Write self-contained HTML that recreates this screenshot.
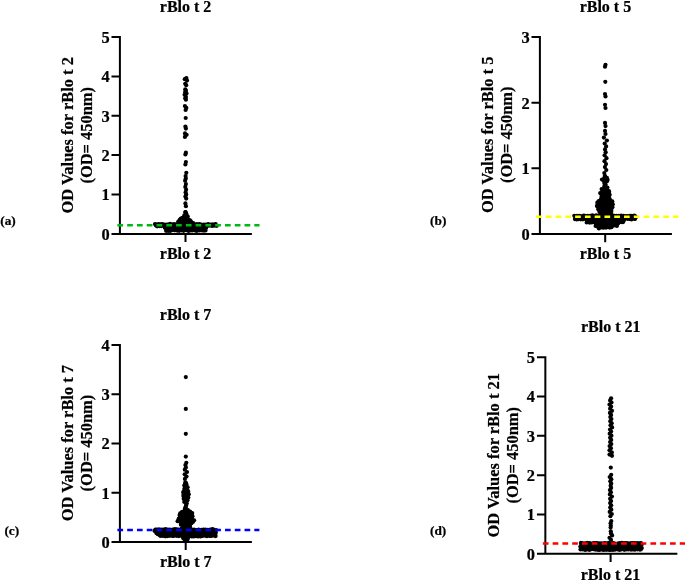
<!DOCTYPE html>
<html lang="en"><head><meta charset="utf-8"><title>OD values for rBlo t allergens</title>
<style>html,body{margin:0;padding:0;background:#fff}body{width:685px;height:580px;overflow:hidden}text{stroke:#000;stroke-width:.22px;stroke-linejoin:round}</style></head>
<body>
<svg width="685" height="580" viewBox="0 0 685 580" style="display:block;will-change:transform">
<rect width="685" height="580" fill="#fff"/>
<g font-family="'Liberation Serif', 'Times New Roman', serif" font-weight="bold" fill="#000">
<path d="M119.9 36V234.9M111.5 233.9H251.9M185.5 233.9V242.1M111.5 37H119.9M111.5 76.4H119.9M111.5 115.8H119.9M111.5 155.1H119.9M111.5 194.5H119.9" stroke="#000" stroke-width="2" fill="none"/>
<text x="109.6" y="42.9" font-size="16.4" text-anchor="end">5</text>
<text x="109.6" y="82.3" font-size="16.4" text-anchor="end">4</text>
<text x="109.6" y="121.7" font-size="16.4" text-anchor="end">3</text>
<text x="109.6" y="161" font-size="16.4" text-anchor="end">2</text>
<text x="109.6" y="200.4" font-size="16.4" text-anchor="end">1</text>
<text x="109.6" y="239.8" font-size="16.4" text-anchor="end">0</text>
<text x="185.6" y="11.8" font-size="16" text-anchor="middle">rBlo t 2</text>
<text x="185.6" y="258.9" font-size="16" text-anchor="middle">rBlo t 2</text>
<text transform="translate(73.4 135.3) rotate(-90)" font-size="16.45" text-anchor="middle">OD Values for rBlo t 2</text>
<text transform="translate(92.1 135.3) rotate(-90)" font-size="16.45" text-anchor="middle">(OD= 450nm)</text>
<text x="0.3" y="224.6" font-size="13.3">(a)</text>
<g><circle cx="186.4" cy="78" r="2.1"/><circle cx="184.8" cy="79.2" r="2.1"/><circle cx="187" cy="80.6" r="2.1"/><circle cx="185.2" cy="83.8" r="2.1"/><circle cx="186.2" cy="85.2" r="2.1"/><circle cx="185.3" cy="89.3" r="2.1"/><circle cx="185.9" cy="90.7" r="2.1"/><circle cx="185.1" cy="92" r="2.1"/><circle cx="186.5" cy="93.4" r="2.1"/><circle cx="184.6" cy="94.8" r="2.1"/><circle cx="185.9" cy="96.9" r="2.1"/><circle cx="185.2" cy="98.3" r="2.1"/><circle cx="185.9" cy="99.7" r="2.1"/><circle cx="184.9" cy="106.1" r="2.1"/><circle cx="186.3" cy="107.9" r="2.1"/><circle cx="185.6" cy="110" r="2.1"/><circle cx="185.7" cy="118" r="2.1"/><circle cx="185.4" cy="126.6" r="2.1"/><circle cx="185.9" cy="128.6" r="2.1"/><circle cx="185" cy="133.4" r="2.1"/><circle cx="186.6" cy="134.8" r="2.1"/><circle cx="184.9" cy="136.9" r="2.1"/><circle cx="185.9" cy="152.7" r="2.1"/><circle cx="185.4" cy="154.5" r="2.1"/><circle cx="185.9" cy="162" r="2.1"/><circle cx="185.4" cy="164.5" r="2.1"/><circle cx="186.3" cy="172.8" r="2.1"/><circle cx="185.6" cy="176.1" r="2.1"/><circle cx="185.8" cy="178.6" r="2.1"/><circle cx="185.1" cy="180.7" r="2.1"/><circle cx="185.9" cy="184.1" r="2.1"/><circle cx="185.3" cy="186.9" r="2.1"/><circle cx="186.1" cy="189.7" r="2.1"/><circle cx="185.6" cy="192.4" r="2.1"/><circle cx="186.2" cy="194.5" r="2.1"/><circle cx="185.4" cy="196.6" r="2.1"/><circle cx="186.2" cy="198.6" r="2.1"/><circle cx="185.4" cy="203.4" r="2.1"/><circle cx="185.9" cy="206.2" r="2.1"/><circle cx="185.4" cy="212.2" r="2.1"/><circle cx="185.5" cy="212" r="2.1"/><circle cx="186.3" cy="214" r="2.1"/><circle cx="186" cy="213.4" r="2.1"/><circle cx="184.3" cy="215.4" r="2.1"/><circle cx="186.5" cy="215.1" r="2.1"/><circle cx="184.7" cy="216.3" r="2.1"/><circle cx="185.1" cy="217.1" r="2.1"/><circle cx="187.8" cy="216.6" r="2.1"/><circle cx="180.8" cy="218.5" r="2.1"/><circle cx="182.4" cy="217.9" r="2.1"/><circle cx="184.3" cy="218.7" r="2.1"/><circle cx="186.6" cy="217.9" r="2.1"/><circle cx="187" cy="217.9" r="2.1"/><circle cx="179.7" cy="219.8" r="2.1"/><circle cx="180.7" cy="219.5" r="2.1"/><circle cx="182.9" cy="219.4" r="2.1"/><circle cx="184.7" cy="219.4" r="2.1"/><circle cx="186.4" cy="219.5" r="2.1"/><circle cx="188.1" cy="220.2" r="2.1"/><circle cx="189.7" cy="220.1" r="2.1"/><circle cx="178.3" cy="221.6" r="2.1"/><circle cx="180.5" cy="220.9" r="2.1"/><circle cx="182.7" cy="221" r="2.1"/><circle cx="184" cy="221.5" r="2.1"/><circle cx="186" cy="221.1" r="2.1"/><circle cx="187.7" cy="220.9" r="2.1"/><circle cx="190.1" cy="221.1" r="2.1"/><circle cx="190.9" cy="221.3" r="2.1"/><circle cx="178.4" cy="222.9" r="2.1"/><circle cx="179.6" cy="222.5" r="2.1"/><circle cx="181" cy="223.2" r="2.1"/><circle cx="183.6" cy="222.6" r="2.1"/><circle cx="185.1" cy="223" r="2.1"/><circle cx="187.8" cy="222.6" r="2.1"/><circle cx="189.9" cy="223.2" r="2.1"/><circle cx="191.6" cy="222.8" r="2.1"/><circle cx="193.2" cy="223.2" r="2.1"/><circle cx="155" cy="224.1" r="2.1"/><circle cx="157.3" cy="224.4" r="2.1"/><circle cx="159" cy="224.1" r="2.1"/><circle cx="161.6" cy="224" r="2.1"/><circle cx="163.4" cy="224.4" r="2.1"/><circle cx="166.2" cy="224.5" r="2.1"/><circle cx="167.8" cy="224.7" r="2.1"/><circle cx="170" cy="223.9" r="2.1"/><circle cx="172.2" cy="224.3" r="2.1"/><circle cx="174.3" cy="224.1" r="2.1"/><circle cx="176.8" cy="224.4" r="2.1"/><circle cx="178.7" cy="224.2" r="2.1"/><circle cx="181.6" cy="224.8" r="2.1"/><circle cx="183.6" cy="224.5" r="2.1"/><circle cx="185.8" cy="224" r="2.1"/><circle cx="187.5" cy="223.9" r="2.1"/><circle cx="190.5" cy="224.5" r="2.1"/><circle cx="192.7" cy="223.9" r="2.1"/><circle cx="194.7" cy="224.3" r="2.1"/><circle cx="196.9" cy="224.2" r="2.1"/><circle cx="199.4" cy="224" r="2.1"/><circle cx="201.2" cy="224.6" r="2.1"/><circle cx="203.7" cy="224.6" r="2.1"/><circle cx="205.7" cy="224.6" r="2.1"/><circle cx="208.1" cy="224.2" r="2.1"/><circle cx="210.1" cy="224.7" r="2.1"/><circle cx="212.5" cy="224.3" r="2.1"/><circle cx="214.7" cy="224.7" r="2.1"/><circle cx="215.7" cy="224.2" r="2.1"/><circle cx="155.9" cy="225.5" r="2.1"/><circle cx="157.1" cy="226.3" r="2.1"/><circle cx="159.6" cy="226.1" r="2.1"/><circle cx="161.3" cy="226.1" r="2.1"/><circle cx="163.7" cy="225.8" r="2.1"/><circle cx="166.1" cy="225.5" r="2.1"/><circle cx="168.3" cy="225.5" r="2.1"/><circle cx="170.3" cy="225.9" r="2.1"/><circle cx="172.2" cy="226.1" r="2.1"/><circle cx="174.7" cy="226" r="2.1"/><circle cx="177.2" cy="225.7" r="2.1"/><circle cx="178.6" cy="225.7" r="2.1"/><circle cx="181.4" cy="225.6" r="2.1"/><circle cx="183.2" cy="226.2" r="2.1"/><circle cx="185.8" cy="225.8" r="2.1"/><circle cx="188.3" cy="225.7" r="2.1"/><circle cx="190.3" cy="225.6" r="2.1"/><circle cx="192.3" cy="226.1" r="2.1"/><circle cx="194.9" cy="226.2" r="2.1"/><circle cx="196.6" cy="225.9" r="2.1"/><circle cx="198.8" cy="225.5" r="2.1"/><circle cx="201.1" cy="226.2" r="2.1"/><circle cx="203.7" cy="226.1" r="2.1"/><circle cx="206" cy="225.7" r="2.1"/><circle cx="207.5" cy="225.8" r="2.1"/><circle cx="209.8" cy="225.6" r="2.1"/><circle cx="212.1" cy="226" r="2.1"/><circle cx="214.4" cy="225.7" r="2.1"/><circle cx="216.7" cy="225.8" r="2.1"/><circle cx="164.8" cy="227.7" r="2.1"/><circle cx="167.1" cy="227.6" r="2.1"/><circle cx="169.7" cy="227.2" r="2.1"/><circle cx="172.1" cy="227" r="2.1"/><circle cx="173.7" cy="227.4" r="2.1"/><circle cx="175.7" cy="227.7" r="2.1"/><circle cx="178.1" cy="227.1" r="2.1"/><circle cx="180.1" cy="227.5" r="2.1"/><circle cx="182.6" cy="227.5" r="2.1"/><circle cx="185" cy="227.7" r="2.1"/><circle cx="187.4" cy="227.6" r="2.1"/><circle cx="188.9" cy="227.4" r="2.1"/><circle cx="191.1" cy="227" r="2.1"/><circle cx="193.5" cy="227.6" r="2.1"/><circle cx="195.4" cy="227.2" r="2.1"/><circle cx="197.8" cy="227.6" r="2.1"/><circle cx="200.1" cy="227.5" r="2.1"/><circle cx="202.5" cy="227.3" r="2.1"/><circle cx="204.7" cy="227.8" r="2.1"/><circle cx="206.2" cy="227.6" r="2.1"/><circle cx="166.4" cy="229" r="2.1"/><circle cx="168.3" cy="228.8" r="2.1"/><circle cx="170.3" cy="229.3" r="2.1"/><circle cx="172.7" cy="229.3" r="2.1"/><circle cx="174.7" cy="229.1" r="2.1"/><circle cx="176.7" cy="229.1" r="2.1"/><circle cx="179.5" cy="229" r="2.1"/><circle cx="181.6" cy="228.7" r="2.1"/><circle cx="184.1" cy="229.4" r="2.1"/><circle cx="186.4" cy="229" r="2.1"/><circle cx="188.5" cy="228.8" r="2.1"/><circle cx="190.8" cy="229.2" r="2.1"/><circle cx="192.6" cy="228.5" r="2.1"/><circle cx="194.9" cy="229" r="2.1"/><circle cx="197.4" cy="228.9" r="2.1"/><circle cx="199" cy="229.2" r="2.1"/><circle cx="201.3" cy="229.2" r="2.1"/><circle cx="203.7" cy="228.8" r="2.1"/><circle cx="205.5" cy="228.6" r="2.1"/><circle cx="166.1" cy="230.8" r="2.1"/><circle cx="168.1" cy="230.8" r="2.1"/><circle cx="170.2" cy="230.9" r="2.1"/><circle cx="172.1" cy="230.2" r="2.1"/><circle cx="174.7" cy="230.3" r="2.1"/><circle cx="177.2" cy="230.6" r="2.1"/><circle cx="179.2" cy="230.8" r="2.1"/><circle cx="181.5" cy="230.3" r="2.1"/><circle cx="183.6" cy="230.8" r="2.1"/><circle cx="186.3" cy="230.2" r="2.1"/><circle cx="188.5" cy="230.9" r="2.1"/><circle cx="190.5" cy="230.5" r="2.1"/><circle cx="192.4" cy="230.5" r="2.1"/><circle cx="195" cy="230.5" r="2.1"/><circle cx="196.8" cy="230.9" r="2.1"/><circle cx="199.5" cy="230.4" r="2.1"/><circle cx="202" cy="230.5" r="2.1"/><circle cx="203.9" cy="230.6" r="2.1"/><circle cx="205.5" cy="230.4" r="2.1"/></g>
<path d="M117.4 225.25H259.5" stroke="#00b812" stroke-width="2.4" stroke-dasharray="5.7 4.08" fill="none"/>
<path d="M539.9 36.05V235M531.5 234H671.9M605.2 234V242.2M531.5 37.05H539.9M531.5 102.7H539.9M531.5 168.35H539.9" stroke="#000" stroke-width="2" fill="none"/>
<text x="529.6" y="42.95" font-size="16.4" text-anchor="end">3</text>
<text x="529.6" y="108.6" font-size="16.4" text-anchor="end">2</text>
<text x="529.6" y="174.25" font-size="16.4" text-anchor="end">1</text>
<text x="529.6" y="239.9" font-size="16.4" text-anchor="end">0</text>
<text x="605.4" y="11.9" font-size="16" text-anchor="middle">rBlo t 5</text>
<text x="605.4" y="258.8" font-size="16" text-anchor="middle">rBlo t 5</text>
<text transform="translate(492.9 134.8) rotate(-90)" font-size="16.45" text-anchor="middle">OD Values for rBlo t 5</text>
<text transform="translate(512.1 134.8) rotate(-90)" font-size="16.45" text-anchor="middle">(OD= 450nm)</text>
<text x="430.1" y="224.7" font-size="13.3">(b)</text>
<g><circle cx="605.5" cy="64.8" r="2.1"/><circle cx="605" cy="66.7" r="2.1"/><circle cx="605.3" cy="81.8" r="2.1"/><circle cx="605" cy="94" r="2.1"/><circle cx="605.5" cy="96.4" r="2.1"/><circle cx="605" cy="104.8" r="2.1"/><circle cx="605.5" cy="108" r="2.1"/><circle cx="605" cy="122.9" r="2.1"/><circle cx="605.5" cy="126.1" r="2.1"/><circle cx="605" cy="130.9" r="2.1"/><circle cx="605.5" cy="134" r="2.1"/><circle cx="603.9" cy="137.6" r="2.1"/><circle cx="606.9" cy="140.5" r="2.1"/><circle cx="604.7" cy="143.5" r="2.1"/><circle cx="606.1" cy="146.4" r="2.1"/><circle cx="605" cy="149.4" r="2.1"/><circle cx="605.7" cy="152.3" r="2.1"/><circle cx="604.6" cy="155.3" r="2.1"/><circle cx="606.5" cy="158.2" r="2.1"/><circle cx="604.5" cy="161.2" r="2.1"/><circle cx="606" cy="164.1" r="2.1"/><circle cx="604.9" cy="167.1" r="2.1"/><circle cx="606.3" cy="170" r="2.1"/><circle cx="604.3" cy="173" r="2.1"/><circle cx="604.8" cy="175.9" r="2.1"/><circle cx="605.3" cy="176.5" r="2.1"/><circle cx="604.3" cy="178.1" r="2.1"/><circle cx="604.9" cy="178.2" r="2.1"/><circle cx="606.9" cy="177.8" r="2.1"/><circle cx="602" cy="179.6" r="2.1"/><circle cx="604" cy="179.6" r="2.1"/><circle cx="606.2" cy="179.3" r="2.1"/><circle cx="607.6" cy="179.8" r="2.1"/><circle cx="604.1" cy="181.4" r="2.1"/><circle cx="604.8" cy="181" r="2.1"/><circle cx="606.3" cy="181.6" r="2.1"/><circle cx="607.1" cy="181.1" r="2.1"/><circle cx="604.5" cy="183.4" r="2.1"/><circle cx="605.1" cy="182.7" r="2.1"/><circle cx="605.2" cy="184.2" r="2.1"/><circle cx="605.5" cy="184.8" r="2.1"/><circle cx="604.3" cy="186.4" r="2.1"/><circle cx="605.5" cy="186.4" r="2.1"/><circle cx="604.8" cy="187.5" r="2.1"/><circle cx="605.3" cy="188.1" r="2.1"/><circle cx="607.4" cy="187.6" r="2.1"/><circle cx="601.6" cy="189.1" r="2.1"/><circle cx="604.1" cy="189.5" r="2.1"/><circle cx="606.3" cy="189.2" r="2.1"/><circle cx="607.2" cy="189.8" r="2.1"/><circle cx="602.6" cy="190.8" r="2.1"/><circle cx="602.7" cy="191.5" r="2.1"/><circle cx="605.1" cy="191.4" r="2.1"/><circle cx="607" cy="191.1" r="2.1"/><circle cx="609" cy="191.2" r="2.1"/><circle cx="600.2" cy="193.1" r="2.1"/><circle cx="601.8" cy="192.7" r="2.1"/><circle cx="604.3" cy="192.7" r="2.1"/><circle cx="605.8" cy="192.5" r="2.1"/><circle cx="608" cy="192.3" r="2.1"/><circle cx="609.1" cy="193" r="2.1"/><circle cx="601.4" cy="194.3" r="2.1"/><circle cx="602.2" cy="194.4" r="2.1"/><circle cx="604.5" cy="194.7" r="2.1"/><circle cx="605.9" cy="194.8" r="2.1"/><circle cx="608.3" cy="194.7" r="2.1"/><circle cx="609.7" cy="194.8" r="2.1"/><circle cx="601.7" cy="196.3" r="2.1"/><circle cx="603.4" cy="196" r="2.1"/><circle cx="605.5" cy="195.7" r="2.1"/><circle cx="607.2" cy="196" r="2.1"/><circle cx="608.6" cy="196.2" r="2.1"/><circle cx="602.1" cy="198.1" r="2.1"/><circle cx="603.4" cy="197.5" r="2.1"/><circle cx="605.4" cy="197.8" r="2.1"/><circle cx="607.3" cy="197.6" r="2.1"/><circle cx="609" cy="197.9" r="2.1"/><circle cx="601" cy="198.9" r="2.1"/><circle cx="602.3" cy="199.6" r="2.1"/><circle cx="604.1" cy="199.2" r="2.1"/><circle cx="605.9" cy="199.1" r="2.1"/><circle cx="608.2" cy="199" r="2.1"/><circle cx="609.9" cy="199.4" r="2.1"/><circle cx="598.7" cy="201" r="2.1"/><circle cx="600" cy="201.1" r="2.1"/><circle cx="602" cy="200.6" r="2.1"/><circle cx="604.1" cy="201.2" r="2.1"/><circle cx="605.8" cy="201.4" r="2.1"/><circle cx="608.1" cy="201" r="2.1"/><circle cx="610.4" cy="201" r="2.1"/><circle cx="612.3" cy="201.4" r="2.1"/><circle cx="597.3" cy="202.7" r="2.1"/><circle cx="599" cy="202.4" r="2.1"/><circle cx="601.2" cy="202.7" r="2.1"/><circle cx="602.9" cy="202.8" r="2.1"/><circle cx="604.9" cy="202.2" r="2.1"/><circle cx="606.8" cy="202.2" r="2.1"/><circle cx="608.7" cy="202.9" r="2.1"/><circle cx="610.9" cy="203" r="2.1"/><circle cx="611.5" cy="203.1" r="2.1"/><circle cx="597.8" cy="204.6" r="2.1"/><circle cx="599" cy="204.2" r="2.1"/><circle cx="601.5" cy="204" r="2.1"/><circle cx="603.1" cy="204.7" r="2.1"/><circle cx="605.3" cy="204.2" r="2.1"/><circle cx="607.6" cy="204.5" r="2.1"/><circle cx="609.2" cy="203.9" r="2.1"/><circle cx="611.3" cy="204.2" r="2.1"/><circle cx="612.8" cy="204.3" r="2.1"/><circle cx="596.9" cy="206.1" r="2.1"/><circle cx="599" cy="205.7" r="2.1"/><circle cx="601.1" cy="205.8" r="2.1"/><circle cx="603.3" cy="205.9" r="2.1"/><circle cx="605.5" cy="206.3" r="2.1"/><circle cx="607.3" cy="205.7" r="2.1"/><circle cx="608.8" cy="206.3" r="2.1"/><circle cx="611.4" cy="206" r="2.1"/><circle cx="612.1" cy="206.1" r="2.1"/><circle cx="598.4" cy="207.7" r="2.1"/><circle cx="599.8" cy="207.3" r="2.1"/><circle cx="601.6" cy="208" r="2.1"/><circle cx="604.4" cy="207.9" r="2.1"/><circle cx="605.9" cy="207.2" r="2.1"/><circle cx="608.3" cy="207.5" r="2.1"/><circle cx="610.9" cy="207.2" r="2.1"/><circle cx="612.4" cy="207.2" r="2.1"/><circle cx="598.3" cy="209.3" r="2.1"/><circle cx="599.9" cy="209.2" r="2.1"/><circle cx="601.9" cy="209" r="2.1"/><circle cx="604.4" cy="209.5" r="2.1"/><circle cx="605.8" cy="208.8" r="2.1"/><circle cx="608.6" cy="209.3" r="2.1"/><circle cx="610.6" cy="208.9" r="2.1"/><circle cx="611.2" cy="209.5" r="2.1"/><circle cx="599.8" cy="211.3" r="2.1"/><circle cx="600.8" cy="210.9" r="2.1"/><circle cx="603.3" cy="211.2" r="2.1"/><circle cx="605.1" cy="210.7" r="2.1"/><circle cx="607" cy="211.2" r="2.1"/><circle cx="609.1" cy="210.5" r="2.1"/><circle cx="611.4" cy="211" r="2.1"/><circle cx="599.5" cy="212.1" r="2.1"/><circle cx="601" cy="212.6" r="2.1"/><circle cx="602.9" cy="212.3" r="2.1"/><circle cx="605.5" cy="212.6" r="2.1"/><circle cx="607.1" cy="212.1" r="2.1"/><circle cx="609.2" cy="212.7" r="2.1"/><circle cx="610.2" cy="212.7" r="2.1"/><circle cx="600.3" cy="214.5" r="2.1"/><circle cx="601.4" cy="214.1" r="2.1"/><circle cx="603.4" cy="213.9" r="2.1"/><circle cx="605.1" cy="214" r="2.1"/><circle cx="607.8" cy="214.5" r="2.1"/><circle cx="609.3" cy="214" r="2.1"/><circle cx="611.5" cy="214" r="2.1"/><circle cx="574.3" cy="215.8" r="2.1"/><circle cx="577" cy="215.8" r="2.1"/><circle cx="579.2" cy="215.8" r="2.1"/><circle cx="580.8" cy="216" r="2.1"/><circle cx="583.7" cy="215.6" r="2.1"/><circle cx="585.1" cy="215.8" r="2.1"/><circle cx="587.8" cy="215.8" r="2.1"/><circle cx="590.3" cy="215.9" r="2.1"/><circle cx="592.4" cy="215.4" r="2.1"/><circle cx="594.4" cy="216" r="2.1"/><circle cx="596.2" cy="215.4" r="2.1"/><circle cx="599" cy="216.1" r="2.1"/><circle cx="600.6" cy="215.9" r="2.1"/><circle cx="602.8" cy="216" r="2.1"/><circle cx="605.5" cy="215.5" r="2.1"/><circle cx="607.3" cy="216" r="2.1"/><circle cx="609.8" cy="216" r="2.1"/><circle cx="611.9" cy="215.6" r="2.1"/><circle cx="614.6" cy="215.9" r="2.1"/><circle cx="616.4" cy="215.8" r="2.1"/><circle cx="618.8" cy="215.9" r="2.1"/><circle cx="621.1" cy="215.7" r="2.1"/><circle cx="623.3" cy="215.9" r="2.1"/><circle cx="625.5" cy="216" r="2.1"/><circle cx="627.7" cy="216.1" r="2.1"/><circle cx="630" cy="215.9" r="2.1"/><circle cx="631.8" cy="215.9" r="2.1"/><circle cx="634.3" cy="215.7" r="2.1"/><circle cx="635" cy="216" r="2.1"/><circle cx="575.6" cy="217.1" r="2.1"/><circle cx="576.4" cy="217.3" r="2.1"/><circle cx="578.7" cy="217.8" r="2.1"/><circle cx="580.7" cy="217.2" r="2.1"/><circle cx="583" cy="217.5" r="2.1"/><circle cx="585.8" cy="217.1" r="2.1"/><circle cx="587.3" cy="217.4" r="2.1"/><circle cx="590" cy="217.8" r="2.1"/><circle cx="591.7" cy="217" r="2.1"/><circle cx="594" cy="217.1" r="2.1"/><circle cx="596.3" cy="217.6" r="2.1"/><circle cx="598.8" cy="217.1" r="2.1"/><circle cx="600.7" cy="217.2" r="2.1"/><circle cx="602.9" cy="217.6" r="2.1"/><circle cx="605.2" cy="217.4" r="2.1"/><circle cx="607.8" cy="217.4" r="2.1"/><circle cx="609.5" cy="217.7" r="2.1"/><circle cx="612.3" cy="217.3" r="2.1"/><circle cx="614.2" cy="217.8" r="2.1"/><circle cx="616.4" cy="217.1" r="2.1"/><circle cx="618.2" cy="217.8" r="2.1"/><circle cx="621" cy="217.3" r="2.1"/><circle cx="623" cy="217.4" r="2.1"/><circle cx="625" cy="217.8" r="2.1"/><circle cx="627.5" cy="217.2" r="2.1"/><circle cx="629.1" cy="217.4" r="2.1"/><circle cx="631.7" cy="217.7" r="2.1"/><circle cx="634.2" cy="217.5" r="2.1"/><circle cx="635.9" cy="217.2" r="2.1"/><circle cx="574.9" cy="219.1" r="2.1"/><circle cx="576.8" cy="219.5" r="2.1"/><circle cx="578.7" cy="219.1" r="2.1"/><circle cx="580.8" cy="219.3" r="2.1"/><circle cx="582.9" cy="219.3" r="2.1"/><circle cx="585.8" cy="219.3" r="2.1"/><circle cx="587.3" cy="218.8" r="2.1"/><circle cx="590.1" cy="218.7" r="2.1"/><circle cx="592.1" cy="219" r="2.1"/><circle cx="594.7" cy="219.1" r="2.1"/><circle cx="596.9" cy="218.9" r="2.1"/><circle cx="599" cy="219" r="2.1"/><circle cx="601.3" cy="218.7" r="2.1"/><circle cx="603.4" cy="218.8" r="2.1"/><circle cx="605.4" cy="219.1" r="2.1"/><circle cx="607.2" cy="219.3" r="2.1"/><circle cx="609.6" cy="218.9" r="2.1"/><circle cx="611.6" cy="218.9" r="2.1"/><circle cx="614.1" cy="219.2" r="2.1"/><circle cx="616.2" cy="219.2" r="2.1"/><circle cx="618.2" cy="218.9" r="2.1"/><circle cx="620.7" cy="219.5" r="2.1"/><circle cx="623.3" cy="219.2" r="2.1"/><circle cx="624.7" cy="218.9" r="2.1"/><circle cx="627.6" cy="218.8" r="2.1"/><circle cx="629.6" cy="219" r="2.1"/><circle cx="631.4" cy="219.5" r="2.1"/><circle cx="634.3" cy="218.8" r="2.1"/><circle cx="635" cy="218.9" r="2.1"/><circle cx="587.3" cy="220.5" r="2.1"/><circle cx="588.6" cy="220.8" r="2.1"/><circle cx="590.7" cy="220.4" r="2.1"/><circle cx="593.3" cy="220.5" r="2.1"/><circle cx="595.7" cy="220.7" r="2.1"/><circle cx="597.8" cy="220.5" r="2.1"/><circle cx="600.1" cy="220.3" r="2.1"/><circle cx="601.7" cy="220.3" r="2.1"/><circle cx="604.4" cy="220.9" r="2.1"/><circle cx="606.1" cy="220.6" r="2.1"/><circle cx="608.9" cy="220.8" r="2.1"/><circle cx="610.5" cy="220.4" r="2.1"/><circle cx="612.7" cy="220.3" r="2.1"/><circle cx="615.2" cy="220.3" r="2.1"/><circle cx="617.8" cy="220.6" r="2.1"/><circle cx="619.7" cy="220.8" r="2.1"/><circle cx="622.1" cy="221" r="2.1"/><circle cx="623.8" cy="220.6" r="2.1"/><circle cx="586.7" cy="222.5" r="2.1"/><circle cx="589.5" cy="222.6" r="2.1"/><circle cx="591.4" cy="222.4" r="2.1"/><circle cx="593" cy="222.2" r="2.1"/><circle cx="595.4" cy="222.5" r="2.1"/><circle cx="597.4" cy="222.2" r="2.1"/><circle cx="599.9" cy="222.6" r="2.1"/><circle cx="602.3" cy="222.4" r="2.1"/><circle cx="603.9" cy="222.6" r="2.1"/><circle cx="606.7" cy="222.4" r="2.1"/><circle cx="608.4" cy="222.3" r="2.1"/><circle cx="610.4" cy="222.5" r="2.1"/><circle cx="613.3" cy="222.3" r="2.1"/><circle cx="615.2" cy="222.6" r="2.1"/><circle cx="616.9" cy="222.7" r="2.1"/><circle cx="619.5" cy="222" r="2.1"/><circle cx="621.2" cy="222.1" r="2.1"/><circle cx="622.9" cy="222.2" r="2.1"/><circle cx="595.9" cy="223.9" r="2.1"/><circle cx="596.6" cy="224.4" r="2.1"/><circle cx="598.8" cy="224.3" r="2.1"/><circle cx="601.4" cy="224" r="2.1"/><circle cx="603.5" cy="223.8" r="2.1"/><circle cx="606" cy="224.4" r="2.1"/><circle cx="608.1" cy="224.1" r="2.1"/><circle cx="609.7" cy="224.3" r="2.1"/><circle cx="612" cy="224.3" r="2.1"/><circle cx="614.1" cy="224" r="2.1"/><circle cx="616.8" cy="223.7" r="2.1"/><circle cx="618.1" cy="223.5" r="2.1"/><circle cx="595.6" cy="226" r="2.1"/><circle cx="597.4" cy="225.4" r="2.1"/><circle cx="599.6" cy="225.8" r="2.1"/><circle cx="601.4" cy="225.7" r="2.1"/><circle cx="603.9" cy="225.2" r="2.1"/><circle cx="605.4" cy="225.6" r="2.1"/><circle cx="607.5" cy="225.5" r="2.1"/><circle cx="610" cy="225.3" r="2.1"/><circle cx="612" cy="225.4" r="2.1"/><circle cx="614.2" cy="225.5" r="2.1"/><circle cx="616.3" cy="225.2" r="2.1"/><circle cx="616.9" cy="226" r="2.1"/><circle cx="598.4" cy="227.2" r="2.1"/><circle cx="599.6" cy="227.4" r="2.1"/><circle cx="601.7" cy="227.5" r="2.1"/><circle cx="603.5" cy="227.7" r="2.1"/><circle cx="605.9" cy="227.6" r="2.1"/><circle cx="607.5" cy="227.2" r="2.1"/><circle cx="609.7" cy="227.6" r="2.1"/><circle cx="611.5" cy="227.2" r="2.1"/><circle cx="598.9" cy="228.4" r="2.1"/></g>
<path d="M536 216.7H678.2" stroke="#ffff00" stroke-width="2.4" stroke-dasharray="5.7 4.08" fill="none"/>
<path d="M119.9 344.1V542.9M111.5 541.9H251.9M185.7 541.9V550.1M111.5 345.1H119.9M111.5 394.3H119.9M111.5 443.5H119.9M111.5 492.7H119.9" stroke="#000" stroke-width="2" fill="none"/>
<text x="109.6" y="351" font-size="16.4" text-anchor="end">4</text>
<text x="109.6" y="400.2" font-size="16.4" text-anchor="end">3</text>
<text x="109.6" y="449.4" font-size="16.4" text-anchor="end">2</text>
<text x="109.6" y="498.6" font-size="16.4" text-anchor="end">1</text>
<text x="109.6" y="547.8" font-size="16.4" text-anchor="end">0</text>
<text x="185.6" y="320.2" font-size="16" text-anchor="middle">rBlo t 7</text>
<text x="185.7" y="567.2" font-size="16" text-anchor="middle">rBlo t 7</text>
<text transform="translate(73.4 443.1) rotate(-90)" font-size="16.45" text-anchor="middle">OD Values for rBlo t 7</text>
<text transform="translate(92.1 443.1) rotate(-90)" font-size="16.45" text-anchor="middle">(OD= 450nm)</text>
<text x="4.4" y="534.7" font-size="13.3">(c)</text>
<g><circle cx="185.8" cy="377.1" r="2.1"/><circle cx="185.8" cy="408.9" r="2.1"/><circle cx="185.8" cy="433.8" r="2.1"/><circle cx="185.8" cy="456.6" r="2.1"/><circle cx="186.3" cy="462.8" r="2.1"/><circle cx="185.4" cy="465.1" r="2.1"/><circle cx="185.9" cy="467.4" r="2.1"/><circle cx="184.8" cy="469.7" r="2.1"/><circle cx="187" cy="472" r="2.1"/><circle cx="184.7" cy="474.3" r="2.1"/><circle cx="186.5" cy="476.6" r="2.1"/><circle cx="184.9" cy="478.9" r="2.1"/><circle cx="185.3" cy="482.4" r="2.1"/><circle cx="185.8" cy="482.8" r="2.1"/><circle cx="184.9" cy="484.5" r="2.1"/><circle cx="186.4" cy="484.2" r="2.1"/><circle cx="184.3" cy="485.6" r="2.1"/><circle cx="186.1" cy="486.4" r="2.1"/><circle cx="186.3" cy="485.9" r="2.1"/><circle cx="185.1" cy="487.8" r="2.1"/><circle cx="185.8" cy="488" r="2.1"/><circle cx="187.6" cy="487.3" r="2.1"/><circle cx="184.4" cy="488.8" r="2.1"/><circle cx="185.5" cy="489" r="2.1"/><circle cx="186.5" cy="489.6" r="2.1"/><circle cx="184.4" cy="490.7" r="2.1"/><circle cx="185" cy="490.4" r="2.1"/><circle cx="186.1" cy="491.2" r="2.1"/><circle cx="188.1" cy="491.2" r="2.1"/><circle cx="183.2" cy="492.2" r="2.1"/><circle cx="184.6" cy="492.8" r="2.1"/><circle cx="187.1" cy="492.2" r="2.1"/><circle cx="187.5" cy="492.4" r="2.1"/><circle cx="183.6" cy="494.5" r="2.1"/><circle cx="184.4" cy="494.2" r="2.1"/><circle cx="186.6" cy="494.4" r="2.1"/><circle cx="188.8" cy="494.3" r="2.1"/><circle cx="183.4" cy="496" r="2.1"/><circle cx="185.1" cy="495.3" r="2.1"/><circle cx="187" cy="496.1" r="2.1"/><circle cx="187.4" cy="495.4" r="2.1"/><circle cx="184.5" cy="497" r="2.1"/><circle cx="184.8" cy="497" r="2.1"/><circle cx="186.8" cy="497.5" r="2.1"/><circle cx="188.3" cy="497.6" r="2.1"/><circle cx="183.7" cy="498.7" r="2.1"/><circle cx="186.2" cy="499" r="2.1"/><circle cx="187.2" cy="498.5" r="2.1"/><circle cx="184.9" cy="500.5" r="2.1"/><circle cx="185.9" cy="500.1" r="2.1"/><circle cx="187.5" cy="500.3" r="2.1"/><circle cx="184.3" cy="501.9" r="2.1"/><circle cx="186" cy="501.9" r="2.1"/><circle cx="186.3" cy="501.8" r="2.1"/><circle cx="186.1" cy="503.3" r="2.1"/><circle cx="186.7" cy="503.6" r="2.1"/><circle cx="186.1" cy="505.4" r="2.1"/><circle cx="185.5" cy="507" r="2.1"/><circle cx="185" cy="508.7" r="2.1"/><circle cx="185.9" cy="508.6" r="2.1"/><circle cx="184.6" cy="510.2" r="2.1"/><circle cx="185.4" cy="509.9" r="2.1"/><circle cx="186.9" cy="509.9" r="2.1"/><circle cx="187.9" cy="510.1" r="2.1"/><circle cx="181.8" cy="512.1" r="2.1"/><circle cx="182.9" cy="511.8" r="2.1"/><circle cx="184.8" cy="511.9" r="2.1"/><circle cx="186.9" cy="511.4" r="2.1"/><circle cx="188.9" cy="512" r="2.1"/><circle cx="190.1" cy="511.5" r="2.1"/><circle cx="180.2" cy="513.4" r="2.1"/><circle cx="181.9" cy="513.4" r="2.1"/><circle cx="183.8" cy="513.7" r="2.1"/><circle cx="185.7" cy="513.8" r="2.1"/><circle cx="188.2" cy="513.5" r="2.1"/><circle cx="190.5" cy="513.2" r="2.1"/><circle cx="192.2" cy="513" r="2.1"/><circle cx="179.6" cy="515.1" r="2.1"/><circle cx="181.4" cy="515.1" r="2.1"/><circle cx="183.5" cy="515.3" r="2.1"/><circle cx="185.8" cy="514.8" r="2.1"/><circle cx="187.9" cy="515.2" r="2.1"/><circle cx="190.7" cy="515.3" r="2.1"/><circle cx="191.8" cy="514.9" r="2.1"/><circle cx="180.2" cy="516.2" r="2.1"/><circle cx="181" cy="516.9" r="2.1"/><circle cx="183.4" cy="516.3" r="2.1"/><circle cx="185" cy="516.9" r="2.1"/><circle cx="186.6" cy="516.4" r="2.1"/><circle cx="189.4" cy="516.3" r="2.1"/><circle cx="190.9" cy="516.5" r="2.1"/><circle cx="192.5" cy="516.2" r="2.1"/><circle cx="178.8" cy="518.5" r="2.1"/><circle cx="180.1" cy="518" r="2.1"/><circle cx="182.6" cy="518" r="2.1"/><circle cx="184.7" cy="518.7" r="2.1"/><circle cx="186.8" cy="518.1" r="2.1"/><circle cx="189.6" cy="518.4" r="2.1"/><circle cx="190.9" cy="518.2" r="2.1"/><circle cx="192.1" cy="518.1" r="2.1"/><circle cx="178.7" cy="520" r="2.1"/><circle cx="179.7" cy="519.8" r="2.1"/><circle cx="181.4" cy="520.2" r="2.1"/><circle cx="183.5" cy="520.1" r="2.1"/><circle cx="185.5" cy="519.7" r="2.1"/><circle cx="187.6" cy="519.9" r="2.1"/><circle cx="189.7" cy="519.6" r="2.1"/><circle cx="191.9" cy="519.8" r="2.1"/><circle cx="194.1" cy="520.3" r="2.1"/><circle cx="177.6" cy="521.2" r="2.1"/><circle cx="179" cy="521.1" r="2.1"/><circle cx="181.5" cy="521.4" r="2.1"/><circle cx="183.3" cy="521.1" r="2.1"/><circle cx="185.4" cy="521.3" r="2.1"/><circle cx="187.8" cy="521.9" r="2.1"/><circle cx="190.3" cy="521.3" r="2.1"/><circle cx="192.1" cy="521.2" r="2.1"/><circle cx="193.1" cy="521.7" r="2.1"/><circle cx="181.2" cy="522.7" r="2.1"/><circle cx="181.6" cy="523" r="2.1"/><circle cx="183.4" cy="523.5" r="2.1"/><circle cx="185.6" cy="523.3" r="2.1"/><circle cx="187.8" cy="522.7" r="2.1"/><circle cx="189.7" cy="522.9" r="2.1"/><circle cx="191.5" cy="523.2" r="2.1"/><circle cx="180.9" cy="524.7" r="2.1"/><circle cx="183" cy="524.4" r="2.1"/><circle cx="185.1" cy="524.5" r="2.1"/><circle cx="186.9" cy="524.9" r="2.1"/><circle cx="188.3" cy="524.5" r="2.1"/><circle cx="189.8" cy="524.6" r="2.1"/><circle cx="183" cy="526.1" r="2.1"/><circle cx="183.6" cy="526.2" r="2.1"/><circle cx="185.6" cy="525.9" r="2.1"/><circle cx="187.5" cy="526.5" r="2.1"/><circle cx="190.1" cy="526.8" r="2.1"/><circle cx="181.8" cy="528.3" r="2.1"/><circle cx="183.5" cy="528.1" r="2.1"/><circle cx="186" cy="528.4" r="2.1"/><circle cx="188.4" cy="527.7" r="2.1"/><circle cx="188.8" cy="527.9" r="2.1"/><circle cx="155.4" cy="529.5" r="2.1"/><circle cx="156.9" cy="529.6" r="2.1"/><circle cx="159" cy="529.3" r="2.1"/><circle cx="161.4" cy="529.5" r="2.1"/><circle cx="163.3" cy="529.7" r="2.1"/><circle cx="165.6" cy="529.2" r="2.1"/><circle cx="167.9" cy="529.5" r="2.1"/><circle cx="169.9" cy="529.6" r="2.1"/><circle cx="172.6" cy="529.6" r="2.1"/><circle cx="174.8" cy="529.1" r="2.1"/><circle cx="176.7" cy="529.4" r="2.1"/><circle cx="178.6" cy="529.5" r="2.1"/><circle cx="180.8" cy="529.6" r="2.1"/><circle cx="183.5" cy="529.5" r="2.1"/><circle cx="185.4" cy="529.3" r="2.1"/><circle cx="187.4" cy="529.4" r="2.1"/><circle cx="190.3" cy="529.6" r="2.1"/><circle cx="192" cy="529.7" r="2.1"/><circle cx="194.1" cy="529.5" r="2.1"/><circle cx="196.7" cy="530" r="2.1"/><circle cx="198.7" cy="529.6" r="2.1"/><circle cx="201.4" cy="529.8" r="2.1"/><circle cx="203.3" cy="529.7" r="2.1"/><circle cx="205.3" cy="529.5" r="2.1"/><circle cx="207.4" cy="529.9" r="2.1"/><circle cx="210.1" cy="529.5" r="2.1"/><circle cx="212.3" cy="529.1" r="2.1"/><circle cx="213.8" cy="529.6" r="2.1"/><circle cx="216.2" cy="530" r="2.1"/><circle cx="154.6" cy="530.9" r="2.1"/><circle cx="157.2" cy="530.9" r="2.1"/><circle cx="158.8" cy="531.2" r="2.1"/><circle cx="161.3" cy="530.9" r="2.1"/><circle cx="163.6" cy="531.3" r="2.1"/><circle cx="165.9" cy="531.3" r="2.1"/><circle cx="168.1" cy="531.5" r="2.1"/><circle cx="170.6" cy="531" r="2.1"/><circle cx="172.3" cy="531.5" r="2.1"/><circle cx="174.4" cy="531.4" r="2.1"/><circle cx="177" cy="531.3" r="2.1"/><circle cx="179.4" cy="531.5" r="2.1"/><circle cx="180.9" cy="531.3" r="2.1"/><circle cx="183.4" cy="531.2" r="2.1"/><circle cx="185.5" cy="531" r="2.1"/><circle cx="188" cy="531.2" r="2.1"/><circle cx="189.8" cy="531" r="2.1"/><circle cx="192" cy="530.9" r="2.1"/><circle cx="194.4" cy="530.8" r="2.1"/><circle cx="196.2" cy="530.8" r="2.1"/><circle cx="198.4" cy="531.4" r="2.1"/><circle cx="200.6" cy="531.1" r="2.1"/><circle cx="203.4" cy="531.2" r="2.1"/><circle cx="205.1" cy="531.5" r="2.1"/><circle cx="207.9" cy="530.8" r="2.1"/><circle cx="209.5" cy="531.2" r="2.1"/><circle cx="212.2" cy="531.1" r="2.1"/><circle cx="214.3" cy="531" r="2.1"/><circle cx="215.1" cy="531" r="2.1"/><circle cx="156.3" cy="533.1" r="2.1"/><circle cx="157.1" cy="532.7" r="2.1"/><circle cx="159.4" cy="532.9" r="2.1"/><circle cx="161.7" cy="533.1" r="2.1"/><circle cx="163.3" cy="532.7" r="2.1"/><circle cx="166" cy="532.5" r="2.1"/><circle cx="167.7" cy="532.4" r="2.1"/><circle cx="170.3" cy="533.2" r="2.1"/><circle cx="172.8" cy="532.5" r="2.1"/><circle cx="174.8" cy="532.7" r="2.1"/><circle cx="176.9" cy="532.7" r="2.1"/><circle cx="179.4" cy="533.2" r="2.1"/><circle cx="180.8" cy="533" r="2.1"/><circle cx="183.1" cy="532.4" r="2.1"/><circle cx="185.4" cy="533" r="2.1"/><circle cx="188.2" cy="532.4" r="2.1"/><circle cx="189.8" cy="532.4" r="2.1"/><circle cx="192.2" cy="532.8" r="2.1"/><circle cx="194.3" cy="532.6" r="2.1"/><circle cx="196.9" cy="533.1" r="2.1"/><circle cx="198.6" cy="532.7" r="2.1"/><circle cx="201.1" cy="533" r="2.1"/><circle cx="203.6" cy="532.7" r="2.1"/><circle cx="205.5" cy="532.8" r="2.1"/><circle cx="207.8" cy="532.5" r="2.1"/><circle cx="209.5" cy="532.4" r="2.1"/><circle cx="212.3" cy="532.6" r="2.1"/><circle cx="214.1" cy="532.4" r="2.1"/><circle cx="215.8" cy="532.8" r="2.1"/><circle cx="157.8" cy="534.2" r="2.1"/><circle cx="159.7" cy="534.4" r="2.1"/><circle cx="162" cy="534.2" r="2.1"/><circle cx="163.9" cy="534" r="2.1"/><circle cx="166.8" cy="534.2" r="2.1"/><circle cx="168.2" cy="534.1" r="2.1"/><circle cx="170.8" cy="534.9" r="2.1"/><circle cx="172.7" cy="534.7" r="2.1"/><circle cx="175.1" cy="534.3" r="2.1"/><circle cx="177.6" cy="534.3" r="2.1"/><circle cx="179.1" cy="534.5" r="2.1"/><circle cx="181.8" cy="534.5" r="2.1"/><circle cx="183.6" cy="534.8" r="2.1"/><circle cx="186.3" cy="534.8" r="2.1"/><circle cx="188.1" cy="534.7" r="2.1"/><circle cx="190.5" cy="534.1" r="2.1"/><circle cx="192.1" cy="534.1" r="2.1"/><circle cx="194.3" cy="534" r="2.1"/><circle cx="196.7" cy="534.6" r="2.1"/><circle cx="198.8" cy="534.4" r="2.1"/><circle cx="200.7" cy="534.1" r="2.1"/><circle cx="203.7" cy="534" r="2.1"/><circle cx="205.5" cy="534.7" r="2.1"/><circle cx="207.9" cy="534.6" r="2.1"/><circle cx="209.7" cy="534.7" r="2.1"/><circle cx="212.3" cy="534.6" r="2.1"/><circle cx="214.6" cy="534" r="2.1"/><circle cx="215" cy="534.6" r="2.1"/><circle cx="159.9" cy="535.6" r="2.1"/><circle cx="160.9" cy="535.8" r="2.1"/><circle cx="163" cy="535.9" r="2.1"/><circle cx="165.4" cy="536.3" r="2.1"/><circle cx="167.3" cy="536.1" r="2.1"/><circle cx="169.5" cy="535.8" r="2.1"/><circle cx="172.2" cy="535.9" r="2.1"/><circle cx="173.7" cy="535.9" r="2.1"/><circle cx="176.5" cy="535.8" r="2.1"/><circle cx="178.7" cy="536.1" r="2.1"/><circle cx="180.9" cy="535.7" r="2.1"/><circle cx="182.5" cy="535.7" r="2.1"/><circle cx="185" cy="536" r="2.1"/><circle cx="186.9" cy="536" r="2.1"/><circle cx="189.4" cy="535.9" r="2.1"/><circle cx="191.7" cy="536.4" r="2.1"/><circle cx="193.6" cy="536.4" r="2.1"/><circle cx="196" cy="536.2" r="2.1"/><circle cx="198" cy="536.5" r="2.1"/><circle cx="200.5" cy="536.4" r="2.1"/><circle cx="202.5" cy="535.9" r="2.1"/><circle cx="205.1" cy="535.7" r="2.1"/><circle cx="206.9" cy="536.2" r="2.1"/><circle cx="209.7" cy="535.9" r="2.1"/><circle cx="211.3" cy="535.9" r="2.1"/><circle cx="214.2" cy="535.7" r="2.1"/><circle cx="215.6" cy="536.1" r="2.1"/><circle cx="183.1" cy="538" r="2.1"/><circle cx="185.1" cy="537.7" r="2.1"/><circle cx="186.7" cy="537.7" r="2.1"/><circle cx="188.1" cy="537.8" r="2.1"/><circle cx="184.4" cy="539.2" r="2.1"/><circle cx="184.8" cy="539" r="2.1"/><circle cx="186.6" cy="539.3" r="2.1"/><circle cx="187.5" cy="539.4" r="2.1"/></g>
<path d="M117.4 529.95H259.4" stroke="#0000ff" stroke-width="2.4" stroke-dasharray="5.7 4.08" fill="none"/>
<path d="M545.35 356.2V554.8M536.95 553.8H677.35M610.6 553.8V562M536.95 357.2H545.35M536.95 396.5H545.35M536.95 435.8H545.35M536.95 475.2H545.35M536.95 514.5H545.35" stroke="#000" stroke-width="2" fill="none"/>
<text x="535.05" y="363.1" font-size="16.4" text-anchor="end">5</text>
<text x="535.05" y="402.4" font-size="16.4" text-anchor="end">4</text>
<text x="535.05" y="441.7" font-size="16.4" text-anchor="end">3</text>
<text x="535.05" y="481.1" font-size="16.4" text-anchor="end">2</text>
<text x="535.05" y="520.4" font-size="16.4" text-anchor="end">1</text>
<text x="535.05" y="559.7" font-size="16.4" text-anchor="end">0</text>
<text x="610.7" y="331.6" font-size="16" text-anchor="middle">rBlo t 21</text>
<text x="610.5" y="579.7" font-size="16" text-anchor="middle">rBlo t 21</text>
<text transform="translate(498.6 455.3) rotate(-90)" font-size="16.45" text-anchor="middle">OD Values for rBlo t 21</text>
<text transform="translate(517.8 455.3) rotate(-90)" font-size="16.45" text-anchor="middle">(OD= 450nm)</text>
<text x="430" y="534.7" font-size="13.3">(d)</text>
<g><circle cx="611.1" cy="398.3" r="2.1"/><circle cx="610.1" cy="400.4" r="2.1"/><circle cx="611.5" cy="402.5" r="2.1"/><circle cx="609.5" cy="404.5" r="2.1"/><circle cx="611.1" cy="406.6" r="2.1"/><circle cx="610.1" cy="408.7" r="2.1"/><circle cx="612" cy="410.8" r="2.1"/><circle cx="609.9" cy="412.9" r="2.1"/><circle cx="611.1" cy="414.9" r="2.1"/><circle cx="610.3" cy="417" r="2.1"/><circle cx="611.4" cy="419.1" r="2.1"/><circle cx="610.3" cy="421.2" r="2.1"/><circle cx="611.7" cy="423.3" r="2.1"/><circle cx="610.5" cy="425.3" r="2.1"/><circle cx="612.1" cy="427.4" r="2.1"/><circle cx="610" cy="429.5" r="2.1"/><circle cx="611.1" cy="431.6" r="2.1"/><circle cx="609.7" cy="433.7" r="2.1"/><circle cx="611.4" cy="435.7" r="2.1"/><circle cx="610.1" cy="437.8" r="2.1"/><circle cx="611.2" cy="439.9" r="2.1"/><circle cx="610.1" cy="442" r="2.1"/><circle cx="611.3" cy="444.1" r="2.1"/><circle cx="609.6" cy="446.1" r="2.1"/><circle cx="610.9" cy="448.2" r="2.1"/><circle cx="609.5" cy="450.3" r="2.1"/><circle cx="611.8" cy="452.4" r="2.1"/><circle cx="610.8" cy="467.6" r="2.1"/><circle cx="611.2" cy="474.8" r="2.1"/><circle cx="609.7" cy="477" r="2.1"/><circle cx="611.3" cy="479.2" r="2.1"/><circle cx="610.3" cy="481.3" r="2.1"/><circle cx="611.2" cy="483.5" r="2.1"/><circle cx="610.6" cy="485.7" r="2.1"/><circle cx="611.1" cy="487.9" r="2.1"/><circle cx="609.9" cy="490.1" r="2.1"/><circle cx="610.9" cy="492.2" r="2.1"/><circle cx="609.9" cy="494.4" r="2.1"/><circle cx="611.9" cy="496.6" r="2.1"/><circle cx="610.1" cy="498.8" r="2.1"/><circle cx="611.1" cy="501" r="2.1"/><circle cx="610.1" cy="503.1" r="2.1"/><circle cx="611.2" cy="505.3" r="2.1"/><circle cx="610.2" cy="507.5" r="2.1"/><circle cx="611.3" cy="509.7" r="2.1"/><circle cx="609.7" cy="511.9" r="2.1"/><circle cx="611.8" cy="514" r="2.1"/><circle cx="610.4" cy="516.2" r="2.1"/><circle cx="611.3" cy="521" r="2.1"/><circle cx="610.6" cy="523.2" r="2.1"/><circle cx="610.8" cy="525.6" r="2.1"/><circle cx="610.6" cy="527.6" r="2.1"/><circle cx="609.5" cy="454.6" r="2.1"/><circle cx="612" cy="455.8" r="2.1"/><circle cx="610.8" cy="531.3" r="2.1"/><circle cx="611" cy="533.4" r="2.1"/><circle cx="612.1" cy="535.4" r="2.1"/><circle cx="609.5" cy="537.8" r="2.1"/><circle cx="611" cy="539.9" r="2.1"/><circle cx="580.9" cy="542.9" r="2.1"/><circle cx="582.2" cy="543.2" r="2.1"/><circle cx="584.9" cy="543.4" r="2.1"/><circle cx="587.2" cy="542.9" r="2.1"/><circle cx="589.4" cy="543" r="2.1"/><circle cx="591.3" cy="543.6" r="2.1"/><circle cx="593.6" cy="543" r="2.1"/><circle cx="595.7" cy="543.2" r="2.1"/><circle cx="597.3" cy="543.1" r="2.1"/><circle cx="599.8" cy="543.4" r="2.1"/><circle cx="601.9" cy="543.3" r="2.1"/><circle cx="604.5" cy="543" r="2.1"/><circle cx="606.2" cy="543.4" r="2.1"/><circle cx="608.7" cy="542.9" r="2.1"/><circle cx="610.6" cy="543.7" r="2.1"/><circle cx="613.2" cy="543.1" r="2.1"/><circle cx="615" cy="543.7" r="2.1"/><circle cx="617.6" cy="543.5" r="2.1"/><circle cx="619.5" cy="543.1" r="2.1"/><circle cx="621.8" cy="542.9" r="2.1"/><circle cx="624.2" cy="543.2" r="2.1"/><circle cx="626.5" cy="543.2" r="2.1"/><circle cx="628.4" cy="543.3" r="2.1"/><circle cx="631" cy="543.1" r="2.1"/><circle cx="633" cy="543" r="2.1"/><circle cx="635.1" cy="543.1" r="2.1"/><circle cx="637.5" cy="543.1" r="2.1"/><circle cx="639.7" cy="543.4" r="2.1"/><circle cx="641" cy="543.2" r="2.1"/><circle cx="581.4" cy="544.8" r="2.1"/><circle cx="582" cy="544.8" r="2.1"/><circle cx="584.4" cy="544.8" r="2.1"/><circle cx="587.2" cy="544.7" r="2.1"/><circle cx="589.2" cy="545" r="2.1"/><circle cx="591" cy="544.8" r="2.1"/><circle cx="593.1" cy="545.2" r="2.1"/><circle cx="595.4" cy="544.8" r="2.1"/><circle cx="597.6" cy="545.1" r="2.1"/><circle cx="600.3" cy="544.9" r="2.1"/><circle cx="602.2" cy="544.5" r="2.1"/><circle cx="604.7" cy="544.5" r="2.1"/><circle cx="606.4" cy="544.7" r="2.1"/><circle cx="608.9" cy="545" r="2.1"/><circle cx="610.8" cy="545.2" r="2.1"/><circle cx="613.5" cy="544.4" r="2.1"/><circle cx="615.4" cy="544.8" r="2.1"/><circle cx="617.3" cy="544.8" r="2.1"/><circle cx="619.5" cy="545" r="2.1"/><circle cx="621.9" cy="545.3" r="2.1"/><circle cx="624.5" cy="545.3" r="2.1"/><circle cx="626.1" cy="545.1" r="2.1"/><circle cx="628.5" cy="545" r="2.1"/><circle cx="631.1" cy="544.5" r="2.1"/><circle cx="632.8" cy="544.8" r="2.1"/><circle cx="635.1" cy="544.6" r="2.1"/><circle cx="637.6" cy="544.6" r="2.1"/><circle cx="639.2" cy="544.5" r="2.1"/><circle cx="641.7" cy="544.5" r="2.1"/><circle cx="580.4" cy="546.6" r="2.1"/><circle cx="582.7" cy="546.2" r="2.1"/><circle cx="584.9" cy="546.7" r="2.1"/><circle cx="587.1" cy="546.1" r="2.1"/><circle cx="589" cy="546" r="2.1"/><circle cx="591.5" cy="546.9" r="2.1"/><circle cx="593.7" cy="546" r="2.1"/><circle cx="595.4" cy="546.5" r="2.1"/><circle cx="597.8" cy="546.1" r="2.1"/><circle cx="600.2" cy="546.3" r="2.1"/><circle cx="602.1" cy="546.1" r="2.1"/><circle cx="604.4" cy="546.1" r="2.1"/><circle cx="606.2" cy="546.5" r="2.1"/><circle cx="608.5" cy="546.7" r="2.1"/><circle cx="610.7" cy="546.4" r="2.1"/><circle cx="612.7" cy="546.2" r="2.1"/><circle cx="615.2" cy="546.5" r="2.1"/><circle cx="617.4" cy="546.8" r="2.1"/><circle cx="619.3" cy="546.8" r="2.1"/><circle cx="621.5" cy="546.9" r="2.1"/><circle cx="624.1" cy="546.4" r="2.1"/><circle cx="626.3" cy="546.8" r="2.1"/><circle cx="628.8" cy="546.4" r="2.1"/><circle cx="630.2" cy="546.1" r="2.1"/><circle cx="633.1" cy="546.7" r="2.1"/><circle cx="635.2" cy="546.1" r="2.1"/><circle cx="637.2" cy="546" r="2.1"/><circle cx="639" cy="546.3" r="2.1"/><circle cx="640.4" cy="546.8" r="2.1"/><circle cx="580.9" cy="547.7" r="2.1"/><circle cx="582.2" cy="547.7" r="2.1"/><circle cx="585" cy="547.9" r="2.1"/><circle cx="586.8" cy="548.2" r="2.1"/><circle cx="589.4" cy="548.5" r="2.1"/><circle cx="591.3" cy="548" r="2.1"/><circle cx="593.7" cy="548" r="2.1"/><circle cx="595.4" cy="548.3" r="2.1"/><circle cx="597.5" cy="547.9" r="2.1"/><circle cx="599.9" cy="548" r="2.1"/><circle cx="602" cy="548" r="2.1"/><circle cx="604.3" cy="547.6" r="2.1"/><circle cx="606.8" cy="547.7" r="2.1"/><circle cx="608.7" cy="548.1" r="2.1"/><circle cx="610.8" cy="547.8" r="2.1"/><circle cx="612.7" cy="547.9" r="2.1"/><circle cx="615.1" cy="548" r="2.1"/><circle cx="617.2" cy="548.3" r="2.1"/><circle cx="619.6" cy="547.6" r="2.1"/><circle cx="621.8" cy="548.5" r="2.1"/><circle cx="623.6" cy="548.1" r="2.1"/><circle cx="626.6" cy="547.9" r="2.1"/><circle cx="628.5" cy="547.9" r="2.1"/><circle cx="630.4" cy="548.1" r="2.1"/><circle cx="632.9" cy="547.9" r="2.1"/><circle cx="635" cy="548.1" r="2.1"/><circle cx="637.4" cy="547.6" r="2.1"/><circle cx="639" cy="547.8" r="2.1"/><circle cx="641.8" cy="548" r="2.1"/><circle cx="580.5" cy="549.5" r="2.1"/><circle cx="582.6" cy="549.3" r="2.1"/><circle cx="585.1" cy="549.9" r="2.1"/><circle cx="586.7" cy="549.5" r="2.1"/><circle cx="589.3" cy="549.9" r="2.1"/><circle cx="591.3" cy="549.2" r="2.1"/><circle cx="593.6" cy="549.2" r="2.1"/><circle cx="595.7" cy="549.7" r="2.1"/><circle cx="598.1" cy="549.8" r="2.1"/><circle cx="599.5" cy="550" r="2.1"/><circle cx="602.4" cy="549.7" r="2.1"/><circle cx="603.9" cy="549.9" r="2.1"/><circle cx="606.4" cy="549.8" r="2.1"/><circle cx="609.1" cy="550" r="2.1"/><circle cx="610.5" cy="549.9" r="2.1"/><circle cx="613" cy="549.9" r="2.1"/><circle cx="615.2" cy="549.6" r="2.1"/><circle cx="617.4" cy="549.3" r="2.1"/><circle cx="619.5" cy="549.9" r="2.1"/><circle cx="621.5" cy="549.3" r="2.1"/><circle cx="624.3" cy="549.8" r="2.1"/><circle cx="626.3" cy="549.3" r="2.1"/><circle cx="628.1" cy="549.5" r="2.1"/><circle cx="631" cy="549.7" r="2.1"/><circle cx="633.2" cy="549.4" r="2.1"/><circle cx="634.9" cy="549.7" r="2.1"/><circle cx="637.5" cy="549.3" r="2.1"/><circle cx="639.7" cy="549.6" r="2.1"/><circle cx="640.8" cy="549.5" r="2.1"/></g>
<path d="M542.85 543.45H690" stroke="#ff0000" stroke-width="2.4" stroke-dasharray="5.7 4.08" fill="none"/>
</g></svg>
</body></html>
